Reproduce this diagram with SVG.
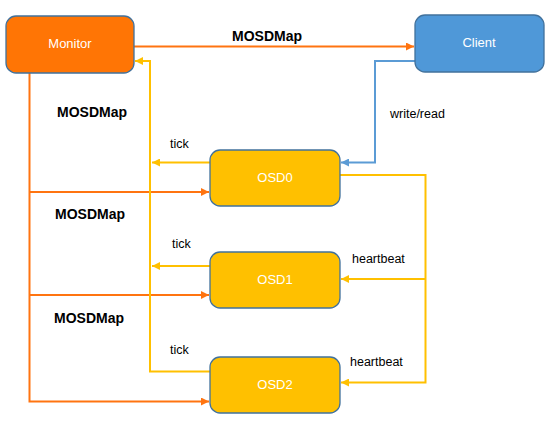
<svg xmlns="http://www.w3.org/2000/svg" width="553" height="424" viewBox="0 0 553 424">
<style>
.node{stroke:#41719C;stroke-width:1.3}
.nt{font-family:"Liberation Sans",Arial,sans-serif;font-size:13px;fill:#ffffff;text-anchor:middle}
.lbl{font-family:"Liberation Sans",Arial,sans-serif;font-size:12.5px;fill:#000000}
.bl{font-family:"Liberation Sans",Arial,sans-serif;font-size:14px;font-weight:bold;fill:#000000}
.or{stroke:#FF7410;stroke-width:2;fill:none}
.ye{stroke:#FFC000;stroke-width:2;fill:none}
.bu{stroke:#5B9BD5;stroke-width:2;fill:none}
</style>
<defs>
<marker id="ao" viewBox="0 0 10 10" refX="10" refY="5" markerWidth="4" markerHeight="4" orient="auto" markerUnits="strokeWidth"><path d="M0,0L10,5L0,10z" fill="#FF7410"/></marker>
<marker id="ay" viewBox="0 0 10 10" refX="10" refY="5" markerWidth="4" markerHeight="4" orient="auto" markerUnits="strokeWidth"><path d="M0,0L10,5L0,10z" fill="#FFC000"/></marker>
<marker id="ab" viewBox="0 0 10 10" refX="10" refY="5" markerWidth="4" markerHeight="4" orient="auto" markerUnits="strokeWidth"><path d="M0,0L10,5L0,10z" fill="#5B9BD5"/></marker>
</defs>
<rect width="553" height="424" fill="#ffffff"/>
<g id="connectors">
<path class="or" d="M134,46.5H414" marker-end="url(#ao)"/>
<path class="or" d="M29.5,73V401.5H209" marker-end="url(#ao)"/>
<path class="or" d="M29.5,192H209" marker-end="url(#ao)"/>
<path class="or" d="M29.5,295H209" marker-end="url(#ao)"/>
<path class="ye" d="M210,371.5H150V61H135" marker-end="url(#ay)"/>
<path class="ye" d="M210,162.5H152" marker-end="url(#ay)"/>
<path class="ye" d="M210,266H152" marker-end="url(#ay)"/>
<path class="ye" d="M340,175H425.5V382.5H341" marker-end="url(#ay)"/>
<path class="ye" d="M425.5,279H341" marker-end="url(#ay)"/>
<path class="bu" d="M415,61H375V162.5H341" marker-end="url(#ab)"/>
<text class="bl" x="232" y="41">MOSDMap</text>
<text class="bl" x="57" y="117">MOSDMap</text>
<text class="bl" x="55" y="219">MOSDMap</text>
<text class="bl" x="54" y="323">MOSDMap</text>
<text class="lbl" x="170" y="148">tick</text>
<text class="lbl" x="172" y="248">tick</text>
<text class="lbl" x="170" y="354">tick</text>
<text class="lbl" x="390" y="118">write/read</text>
<text class="lbl" x="352" y="263">heartbeat</text>
<text class="lbl" x="350" y="366">heartbeat</text>
</g>
<g id="monitor"><rect class="node" x="6" y="16" width="128" height="57" rx="10" fill="#FF7505"/><text class="nt" x="70" y="48">Monitor</text></g>
<g id="client"><rect class="node" x="415" y="15" width="129" height="57" rx="10" fill="#4F98D8"/><text class="nt" x="479" y="47">Client</text></g>
<g id="osd0"><rect class="node" x="210" y="150" width="130" height="56" rx="10" fill="#FFC000"/><text class="nt" x="275" y="182">OSD0</text></g>
<g id="osd1"><rect class="node" x="210" y="252" width="130" height="56" rx="10" fill="#FFC000"/><text class="nt" x="275" y="284">OSD1</text></g>
<g id="osd2"><rect class="node" x="210" y="357" width="130" height="56" rx="10" fill="#FFC000"/><text class="nt" x="275" y="389">OSD2</text></g>
</svg>
